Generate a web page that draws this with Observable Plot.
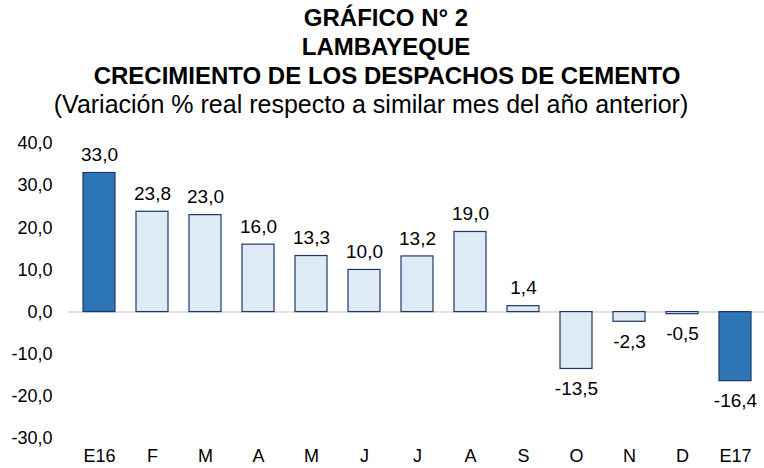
<!DOCTYPE html>
<html><head><meta charset="utf-8">
<script src="https://cdn.jsdelivr.net/npm/d3@7"></script>
<script src="https://cdn.jsdelivr.net/npm/@observablehq/plot@0.6"></script>
<style>
body{margin:0;background:#fff;width:764px;height:468px;overflow:hidden;font-family:"Liberation Sans",Arial,sans-serif}
#titles{position:relative;height:118px}
.t{position:absolute;white-space:nowrap;transform:translateX(-50%);color:#000;line-height:28px;font-family:"Liberation Sans",Arial,sans-serif}
.b{font-weight:bold;font-size:24px}
.s{font-size:25px}
</style></head>
<body>
<div id="titles">
<div class="t b" style="left:386px;top:4px">GRÁFICO N° 2</div>
<div class="t b" style="left:386px;top:33px">LAMBAYEQUE</div>
<div class="t b" style="left:387px;top:62px">CRECIMIENTO DE LOS DESPACHOS DE CEMENTO</div>
<div class="t s" style="left:371px;top:90px">(Variación % real respecto a similar mes del año anterior)</div>
</div>
<div id="chart"></div>
<script>
const months = ["E16","F","M","A","M","J","J","A","S","O","N","D","E17"];
const values = [33.0,23.8,23.0,16.0,13.3,10.0,13.2,19.0,1.4,-13.5,-2.3,-0.5,-16.4];
const highlighted = [true,false,false,false,false,false,false,false,false,false,false,false,true];
const yTicks = [-30,-20,-10,0,10,20,30,40];

const data = months.map((m,i)=>({i, m, v: values[i], h: highlighted[i]}));
const fmt = v => v.toFixed(1).replace(".", ",");

const chart = Plot.plot({
  width: 764, height: 350,
  marginLeft: 67, marginRight: 0, marginTop: 25, marginBottom: 30,
  style: {fontFamily: '"Liberation Sans", Arial, sans-serif', fontSize: "18px", color: "#000", background: "#fff", overflow: "visible"},
  x: {domain: d3.range(months.length), range: [67, 767], paddingInner: 0.4, paddingOuter: 0.2, label: null, axis: null},
  y: {domain: [-30, 40], label: null, axis: null},
  marks: [
    Plot.axisX({tickFormat: i => months[i], tickSize: 0, tickPadding: 11, fontSize: 18, label: null}),
    Plot.axisY({ticks: yTicks, tickFormat: fmt, tickSize: 0, tickPadding: 15, fontSize: 18, label: null}),
    Plot.ruleY([0], {stroke: "#d9d9d9", strokeWidth: 1.5}),
    Plot.barY(data, {x: "i", y: "v", fill: d => d.h ? "#2E75B6" : "#DEEBF7", stroke: "#1F3864", strokeWidth: 1.2}),
    Plot.text(data.filter(d => d.v >= 0), {x: "i", y: "v", text: d => fmt(d.v), dy: -18, fontSize: 19, fill: "#000"}),
    Plot.text(data.filter(d => d.v < 0), {x: "i", y: "v", text: d => fmt(d.v), dy: 20, fontSize: 19, fill: "#000"})
  ]
});
document.getElementById("chart").appendChild(chart);
</script>
</body></html>
